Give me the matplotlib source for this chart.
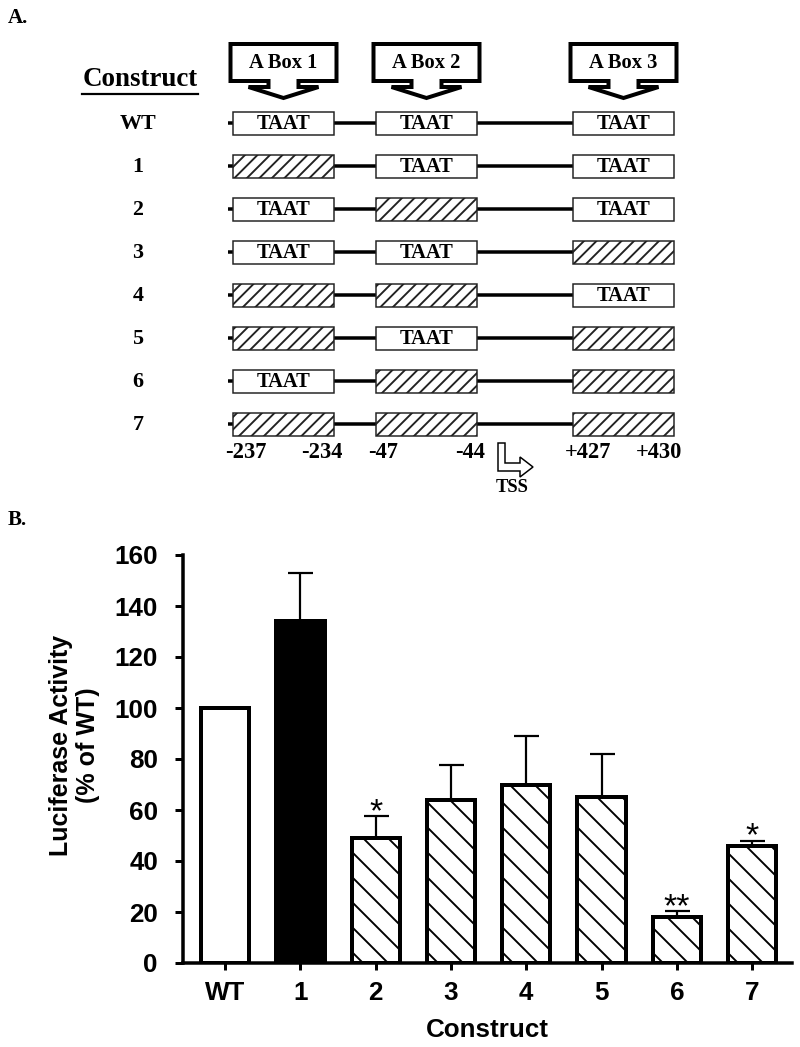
import matplotlib
matplotlib.use('Agg')
import matplotlib.pyplot as plt
from matplotlib.patches import Rectangle, Polygon
from matplotlib.lines import Line2D
import numpy as np

# ---------------- data ----------------
constructs = ['WT', '1', '2', '3', '4', '5', '6', '7']
# 1 = A box mutated (hatched), 0 = intact TAAT
mutated_box1 = [0, 1, 0, 0, 1, 1, 0, 1]
mutated_box2 = [0, 0, 1, 0, 1, 0, 1, 1]
mutated_box3 = [0, 0, 0, 1, 0, 1, 1, 1]
box_names = ['A Box 1', 'A Box 2', 'A Box 3']
site_left = ['-237', '-47', '+427']
site_right = ['-234', '-44', '+430']

activity = [100, 134, 49, 64, 70, 65, 18, 46]
sem = [0, 19, 8.5, 13.5, 19, 17, 2.3, 2]
signif = ['', '', '*', '', '', '', '**', '*']

# ---------------- setup ----------------
DPI = 75
W, H = 800, 1047


def pt(px):
    return px * 72.0 / DPI


plt.rcParams['hatch.linewidth'] = pt(1.9)
plt.rcParams['hatch.color'] = 'black'
SERIF = 'Liberation Serif'
SANS = 'Liberation Sans'

fig = plt.figure(figsize=(W / DPI, H / DPI), dpi=DPI)
fig.patch.set_facecolor('white')

# ---------------- panel A (diagram, pixel coordinates) ----------------
axA = fig.add_axes([0, 0, 1, 1])
axA.set_xlim(0, W)
axA.set_ylim(H, 0)
axA.axis('off')

axA.text(8, 18, 'A.', fontsize=pt(21), fontweight='bold', family=SERIF,
         ha='left', va='center')
axA.text(8, 520, 'B.', fontsize=pt(21), fontweight='bold', family=SERIF,
         ha='left', va='center')

axA.text(140, 80, 'Construct', fontsize=pt(27), fontweight='bold',
         family=SERIF, ha='center', va='center')
axA.add_line(Line2D([82, 198], [94, 94], color='black', lw=pt(2.2)))

box_cx = [283.5, 426.5, 623.5]
box_w, box_h = 101, 23
row_y0, row_dy = 123, 43
mut = list(zip(mutated_box1, mutated_box2, mutated_box3))

for i, name in enumerate(constructs):
    y = row_y0 + row_dy * i
    axA.text(138, y + 1, name, fontsize=pt(22), fontweight='bold',
             family=SERIF, ha='center', va='center')
    axA.add_line(Line2D([228, box_cx[2] + box_w / 2], [y, y], color='black',
                        lw=pt(3.5), solid_capstyle='butt', zorder=1))
    for j, cx in enumerate(box_cx):
        m = mut[i][j]
        r = Rectangle((cx - box_w / 2, y - box_h / 2), box_w, box_h,
                      facecolor='white', edgecolor='#222222', lw=pt(1.5),
                      hatch='//' if m else None, zorder=2)
        axA.add_patch(r)
        if not m:
            axA.text(cx, y + 1, 'TAAT', fontsize=pt(20.5), fontweight='bold',
                     family=SERIF, ha='center', va='center', zorder=3)

# callouts
for j, cx in enumerate(box_cx):
    pts = [(cx - 53, 44), (cx + 53, 44), (cx + 53, 81), (cx + 15, 81),
           (cx + 15, 87), (cx + 35, 87), (cx, 98), (cx - 35, 87),
           (cx - 15, 87), (cx - 15, 81), (cx - 53, 81)]
    axA.add_patch(Polygon(pts, closed=True, facecolor='white',
                          edgecolor='black', lw=pt(4), joinstyle='miter'))
    axA.text(cx, 63, box_names[j], fontsize=pt(20.5), fontweight='bold',
             family=SERIF, ha='center', va='center')

# site coordinate labels
last_y = row_y0 + row_dy * (len(constructs) - 1)
for j, cx in enumerate(box_cx):
    axA.text(cx - box_w / 2 - 8, last_y + 29, site_left[j], fontsize=pt(22.5),
             fontweight='bold', family=SERIF, ha='left', va='center')
    axA.text(cx + box_w / 2 + 8, last_y + 29, site_right[j], fontsize=pt(22.5),
             fontweight='bold', family=SERIF, ha='right', va='center')

# TSS bent arrow
tss = [(498, 443), (505, 443), (505, 463), (520, 463), (520, 457),
       (533, 467), (520, 477), (520, 471), (498, 471)]
axA.add_patch(Polygon(tss, closed=True, facecolor='white',
                      edgecolor='black', lw=pt(1.5)))
axA.text(512, 487, 'TSS', fontsize=pt(18.5), fontweight='bold', family=SERIF,
         ha='center', va='center')

# ---------------- panel B (bar chart) ----------------
x0, x1, yb, yt = 183, 792, 963, 555
axB = fig.add_axes([x0 / W, (H - yb) / H, (x1 - x0) / W, (yb - yt) / H])
axB.patch.set_alpha(0)

xpos = np.arange(len(constructs))
faces = ['white', 'black'] + ['white'] * 6
bars = axB.bar(xpos, activity, width=0.64, color=faces, edgecolor='black',
               linewidth=pt(4), zorder=3)
for k, b in enumerate(bars):
    if k >= 2:
        b.set_hatch('\\')

err = np.array(sem)
has = err > 0
axB.errorbar(xpos[has], np.array(activity)[has],
             yerr=[np.zeros(has.sum()), err[has]], fmt='none',
             ecolor='black', elinewidth=pt(2.2), capsize=pt(12.5),
             capthick=pt(2.2), zorder=2)

for k, s in enumerate(signif):
    if s:
        axB.text(xpos[k], activity[k] + sem[k] - 1.8, s, ha='center',
                 va='baseline', fontsize=pt(34), family=SANS, zorder=4)

axB.set_xlim(-0.56, 7.53)
axB.set_ylim(0, 160)
axB.set_yticks(np.arange(0, 161, 20))
axB.set_xticks(xpos)
axB.set_xticklabels(constructs)
for lab in axB.get_xticklabels() + axB.get_yticklabels():
    lab.set_family(SANS)
    lab.set_fontweight('bold')
    lab.set_fontsize(pt(26))

for side in ['top', 'right']:
    axB.spines[side].set_visible(False)
for side in ['left', 'bottom']:
    axB.spines[side].set_linewidth(pt(3.5))
axB.tick_params(axis='y', direction='out', length=pt(8), width=pt(3),
                pad=pt(17))
axB.tick_params(axis='x', direction='out', length=pt(7), width=pt(3),
                pad=pt(11))

axB.set_xlabel('Construct', fontsize=pt(26), fontweight='bold', family=SANS,
               labelpad=pt(13))
axB.set_ylabel('Luciferase Activity\n(% of WT)', fontsize=pt(25),
               fontweight='bold', family=SANS, linespacing=1.15)
axB.yaxis.set_label_coords((100 - x0) / (x1 - x0), (yb - 745) / (yb - yt))

fig.savefig('out.png', dpi=DPI, facecolor='white')
